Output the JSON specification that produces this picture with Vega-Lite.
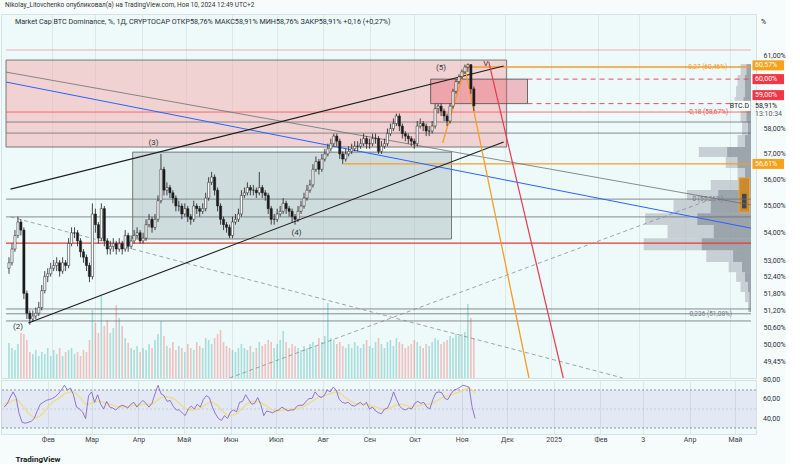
{
"$schema": "https://vega.github.io/schema/vega-lite/v6.json",
"background": "#f6fcfc",
"padding": {"left": 0, "top": 2, "right": 0, "bottom": 0},
"bounds": "flush",
"title": {"text": "Nikolay_Litovchenko опубликовал(а) на TradingView.com, Ноя 10, 2024 12:49 UTC+2", "anchor": "start", "fontSize": 6.5, "fontWeight": "normal", "color": "#333333", "offset": 5, "dx": 5},
"config": {"font": "Roboto", "view": {"stroke": "#d5e2e3", "fill": "#eefafa"}},
"spacing": 2,
"datasets": {
"c": [
{"t":"2024-01-03","o":52.7,"h":53.1,"l":52.5,"c":52.9,"v":35,"r":52,"m":55},
{"t":"2024-01-05","o":52.9,"h":53.6,"l":52.8,"c":53.4,"v":30,"r":55,"m":56},
{"t":"2024-01-07","o":53.4,"h":54.1,"l":53.3,"c":53.9,"v":28,"r":62,"m":57},
{"t":"2024-01-09","o":53.9,"h":54.6,"l":53.8,"c":54.4,"v":34,"r":68,"m":59},
{"t":"2024-01-11","o":54.4,"h":54.5,"l":53.9,"c":54.1,"v":45,"r":62,"m":60},
{"t":"2024-01-13","o":54.1,"h":54.2,"l":51.6,"c":51.8,"v":44,"r":45,"m":58},
{"t":"2024-01-15","o":51.8,"h":51.9,"l":50.9,"c":51.1,"v":38,"r":36,"m":54},
{"t":"2024-01-17","o":51.1,"h":51.2,"l":50.7,"c":50.9,"v":26,"r":35,"m":50},
{"t":"2024-01-19","o":50.9,"h":51.2,"l":50.8,"c":51.0,"v":24,"r":36,"m":46},
{"t":"2024-01-21","o":51.0,"h":51.3,"l":50.9,"c":51.1,"v":28,"r":37,"m":43},
{"t":"2024-01-23","o":51.1,"h":51.5,"l":51.0,"c":51.3,"v":22,"r":40,"m":41},
{"t":"2024-01-25","o":51.3,"h":52.1,"l":51.2,"c":51.9,"v":26,"r":48,"m":41},
{"t":"2024-01-27","o":51.9,"h":52.6,"l":51.8,"c":52.4,"v":24,"r":55,"m":43},
{"t":"2024-01-29","o":52.4,"h":52.7,"l":52.2,"c":52.5,"v":30,"r":57,"m":46},
{"t":"2024-01-31","o":52.5,"h":52.9,"l":52.4,"c":52.7,"v":22,"r":59,"m":50},
{"t":"2024-02-02","o":52.7,"h":53.0,"l":52.6,"c":52.8,"v":28,"r":60,"m":54},
{"t":"2024-02-04","o":52.8,"h":53.1,"l":52.6,"c":52.9,"v":24,"r":61,"m":57},
{"t":"2024-02-06","o":52.9,"h":53.0,"l":52.4,"c":52.6,"v":30,"r":63,"m":59},
{"t":"2024-02-08","o":52.6,"h":53.1,"l":52.5,"c":52.9,"v":22,"r":66,"m":61},
{"t":"2024-02-10","o":52.9,"h":53.0,"l":52.6,"c":52.8,"v":26,"r":70,"m":63},
{"t":"2024-02-12","o":52.8,"h":53.8,"l":52.7,"c":53.6,"v":28,"r":75,"m":66},
{"t":"2024-02-14","o":53.6,"h":54.2,"l":53.5,"c":54.0,"v":30,"r":70,"m":67},
{"t":"2024-02-16","o":54.0,"h":54.2,"l":53.8,"c":54.0,"v":24,"r":72,"m":68},
{"t":"2024-02-18","o":54.0,"h":54.1,"l":53.5,"c":53.7,"v":26,"r":65,"m":68},
{"t":"2024-02-20","o":53.7,"h":53.8,"l":53.1,"c":53.3,"v":22,"r":52,"m":66},
{"t":"2024-02-22","o":53.3,"h":53.4,"l":52.9,"c":53.1,"v":28,"r":50,"m":63},
{"t":"2024-02-24","o":53.1,"h":53.2,"l":52.6,"c":52.8,"v":26,"r":47,"m":59},
{"t":"2024-02-26","o":52.8,"h":52.9,"l":52.2,"c":52.4,"v":38,"r":40,"m":55},
{"t":"2024-02-28","o":52.4,"h":55.1,"l":52.3,"c":54.7,"v":68,"r":64,"m":55},
{"t":"2024-03-01","o":54.7,"h":54.9,"l":54.0,"c":54.3,"v":55,"r":68,"m":56},
{"t":"2024-03-03","o":54.3,"h":54.4,"l":53.6,"c":53.8,"v":45,"r":57,"m":57},
{"t":"2024-03-05","o":53.8,"h":55.1,"l":53.7,"c":54.9,"v":82,"r":65,"m":58},
{"t":"2024-03-07","o":54.9,"h":55.0,"l":53.5,"c":53.7,"v":52,"r":55,"m":58},
{"t":"2024-03-09","o":53.7,"h":53.8,"l":53.2,"c":53.4,"v":58,"r":50,"m":57},
{"t":"2024-03-11","o":53.4,"h":53.7,"l":53.2,"c":53.5,"v":45,"r":58,"m":56},
{"t":"2024-03-13","o":53.5,"h":53.8,"l":53.3,"c":53.6,"v":50,"r":52,"m":55},
{"t":"2024-03-15","o":53.6,"h":53.7,"l":53.2,"c":53.4,"v":73,"r":51,"m":54},
{"t":"2024-03-17","o":53.4,"h":53.8,"l":53.3,"c":53.6,"v":60,"r":49,"m":53},
{"t":"2024-03-19","o":53.6,"h":53.7,"l":53.2,"c":53.4,"v":52,"r":52,"m":52},
{"t":"2024-03-21","o":53.4,"h":54.1,"l":53.3,"c":53.9,"v":40,"r":54,"m":52},
{"t":"2024-03-23","o":53.9,"h":54.0,"l":53.3,"c":53.5,"v":35,"r":53,"m":52},
{"t":"2024-03-25","o":53.5,"h":53.9,"l":53.4,"c":53.7,"v":30,"r":51,"m":53},
{"t":"2024-03-27","o":53.7,"h":54.1,"l":53.6,"c":53.9,"v":28,"r":55,"m":53},
{"t":"2024-03-29","o":53.9,"h":54.2,"l":53.8,"c":54.0,"v":32,"r":57,"m":54},
{"t":"2024-03-31","o":54.0,"h":54.1,"l":53.6,"c":53.7,"v":26,"r":52,"m":54},
{"t":"2024-04-02","o":53.7,"h":54.0,"l":53.6,"c":53.8,"v":30,"r":56,"m":54},
{"t":"2024-04-04","o":53.8,"h":54.5,"l":53.7,"c":54.3,"v":28,"r":59,"m":55},
{"t":"2024-04-06","o":54.3,"h":54.7,"l":54.2,"c":54.5,"v":34,"r":56,"m":55},
{"t":"2024-04-08","o":54.5,"h":54.6,"l":54.0,"c":54.2,"v":30,"r":52,"m":55},
{"t":"2024-04-10","o":54.2,"h":54.7,"l":54.1,"c":54.5,"v":38,"r":56,"m":55},
{"t":"2024-04-12","o":54.5,"h":55.4,"l":54.4,"c":55.2,"v":44,"r":66,"m":57},
{"t":"2024-04-14","o":55.2,"h":57.0,"l":55.1,"c":56.4,"v":57,"r":75,"m":60},
{"t":"2024-04-16","o":56.4,"h":56.5,"l":55.4,"c":55.6,"v":42,"r":66,"m":62},
{"t":"2024-04-18","o":55.6,"h":55.9,"l":55.4,"c":55.7,"v":32,"r":64,"m":63},
{"t":"2024-04-20","o":55.7,"h":55.8,"l":55.3,"c":55.5,"v":30,"r":58,"m":63},
{"t":"2024-04-22","o":55.5,"h":55.6,"l":55.1,"c":55.3,"v":36,"r":59,"m":62},
{"t":"2024-04-24","o":55.3,"h":55.4,"l":54.8,"c":55.0,"v":28,"r":53,"m":61},
{"t":"2024-04-26","o":55.0,"h":55.2,"l":54.8,"c":55.0,"v":32,"r":49,"m":59},
{"t":"2024-04-28","o":55.0,"h":55.1,"l":54.5,"c":54.7,"v":30,"r":49,"m":56},
{"t":"2024-04-30","o":54.7,"h":55.1,"l":54.6,"c":54.9,"v":26,"r":46,"m":53},
{"t":"2024-05-02","o":54.9,"h":55.0,"l":54.4,"c":54.6,"v":34,"r":43,"m":51},
{"t":"2024-05-04","o":54.6,"h":54.7,"l":54.3,"c":54.5,"v":30,"r":50,"m":49},
{"t":"2024-05-06","o":54.5,"h":55.2,"l":54.4,"c":55.0,"v":28,"r":53,"m":49},
{"t":"2024-05-08","o":55.0,"h":55.1,"l":54.7,"c":54.9,"v":36,"r":50,"m":49},
{"t":"2024-05-10","o":54.9,"h":55.0,"l":54.6,"c":54.8,"v":32,"r":55,"m":50},
{"t":"2024-05-12","o":54.8,"h":55.1,"l":54.7,"c":54.9,"v":30,"r":52,"m":51},
{"t":"2024-05-14","o":54.9,"h":55.5,"l":54.8,"c":55.3,"v":40,"r":60,"m":53},
{"t":"2024-05-16","o":55.3,"h":56.1,"l":55.2,"c":55.9,"v":38,"r":64,"m":55},
{"t":"2024-05-18","o":55.9,"h":56.3,"l":55.8,"c":56.1,"v":34,"r":62,"m":57},
{"t":"2024-05-20","o":56.1,"h":56.2,"l":55.4,"c":55.6,"v":40,"r":52,"m":57},
{"t":"2024-05-22","o":55.6,"h":55.7,"l":54.8,"c":55.0,"v":44,"r":45,"m":55},
{"t":"2024-05-24","o":55.0,"h":55.1,"l":54.3,"c":54.5,"v":48,"r":40,"m":53},
{"t":"2024-05-26","o":54.5,"h":54.6,"l":54.1,"c":54.3,"v":36,"r":38,"m":49},
{"t":"2024-05-28","o":54.3,"h":54.4,"l":54.0,"c":54.2,"v":32,"r":43,"m":46},
{"t":"2024-05-30","o":54.2,"h":54.3,"l":53.8,"c":53.9,"v":30,"r":40,"m":43},
{"t":"2024-06-01","o":53.9,"h":54.6,"l":53.8,"c":54.4,"v":28,"r":47,"m":43},
{"t":"2024-06-03","o":54.4,"h":54.7,"l":54.3,"c":54.5,"v":26,"r":49,"m":44},
{"t":"2024-06-05","o":54.5,"h":54.9,"l":54.4,"c":54.7,"v":30,"r":47,"m":45},
{"t":"2024-06-07","o":54.7,"h":55.6,"l":54.6,"c":55.4,"v":34,"r":57,"m":48},
{"t":"2024-06-09","o":55.4,"h":55.7,"l":55.3,"c":55.5,"v":30,"r":58,"m":51},
{"t":"2024-06-11","o":55.5,"h":55.9,"l":55.4,"c":55.7,"v":28,"r":65,"m":54},
{"t":"2024-06-13","o":55.7,"h":55.8,"l":55.4,"c":55.6,"v":32,"r":60,"m":57},
{"t":"2024-06-15","o":55.6,"h":55.8,"l":55.4,"c":55.6,"v":26,"r":55,"m":58},
{"t":"2024-06-17","o":55.6,"h":55.7,"l":55.3,"c":55.5,"v":30,"r":56,"m":58},
{"t":"2024-06-19","o":55.5,"h":56.3,"l":55.4,"c":55.7,"v":36,"r":62,"m":58},
{"t":"2024-06-21","o":55.7,"h":55.8,"l":55.3,"c":55.5,"v":32,"r":55,"m":57},
{"t":"2024-06-23","o":55.5,"h":55.6,"l":55.2,"c":55.4,"v":34,"r":43,"m":55},
{"t":"2024-06-25","o":55.4,"h":55.5,"l":54.7,"c":54.9,"v":38,"r":48,"m":53},
{"t":"2024-06-27","o":54.9,"h":55.0,"l":54.3,"c":54.5,"v":36,"r":47,"m":51},
{"t":"2024-06-29","o":54.5,"h":54.7,"l":54.3,"c":54.5,"v":30,"r":46,"m":49},
{"t":"2024-07-01","o":54.5,"h":54.9,"l":54.4,"c":54.7,"v":34,"r":48,"m":48},
{"t":"2024-07-03","o":54.7,"h":55.0,"l":54.6,"c":54.8,"v":38,"r":49,"m":48},
{"t":"2024-07-05","o":54.8,"h":55.3,"l":54.7,"c":55.1,"v":47,"r":52,"m":49},
{"t":"2024-07-07","o":55.1,"h":55.2,"l":54.7,"c":54.9,"v":36,"r":50,"m":49},
{"t":"2024-07-09","o":54.9,"h":55.0,"l":54.6,"c":54.8,"v":30,"r":48,"m":50},
{"t":"2024-07-11","o":54.8,"h":54.9,"l":54.4,"c":54.6,"v":34,"r":49,"m":50},
{"t":"2024-07-13","o":54.6,"h":54.7,"l":54.3,"c":54.5,"v":32,"r":49,"m":50},
{"t":"2024-07-15","o":54.5,"h":55.0,"l":54.4,"c":54.8,"v":30,"r":53,"m":50},
{"t":"2024-07-17","o":54.8,"h":55.2,"l":54.7,"c":55.0,"v":28,"r":54,"m":51},
{"t":"2024-07-19","o":55.0,"h":55.5,"l":54.9,"c":55.3,"v":32,"r":54,"m":52},
{"t":"2024-07-21","o":55.3,"h":55.8,"l":55.2,"c":55.6,"v":30,"r":58,"m":54},
{"t":"2024-07-23","o":55.6,"h":56.0,"l":55.5,"c":55.8,"v":34,"r":61,"m":56},
{"t":"2024-07-25","o":55.8,"h":56.6,"l":55.7,"c":56.4,"v":36,"r":61,"m":58},
{"t":"2024-07-27","o":56.4,"h":56.9,"l":56.3,"c":56.7,"v":32,"r":68,"m":60},
{"t":"2024-07-29","o":56.7,"h":56.8,"l":56.2,"c":56.4,"v":40,"r":64,"m":62},
{"t":"2024-07-31","o":56.4,"h":57.0,"l":56.3,"c":56.8,"v":36,"r":62,"m":63},
{"t":"2024-08-02","o":56.8,"h":57.2,"l":56.7,"c":57.0,"v":42,"r":64,"m":64},
{"t":"2024-08-04","o":57.0,"h":57.4,"l":56.9,"c":57.2,"v":75,"r":70,"m":65},
{"t":"2024-08-06","o":57.2,"h":57.6,"l":57.1,"c":57.4,"v":40,"r":68,"m":66},
{"t":"2024-08-08","o":57.4,"h":57.8,"l":57.3,"c":57.7,"v":38,"r":73,"m":67},
{"t":"2024-08-10","o":57.7,"h":57.8,"l":57.3,"c":57.5,"v":34,"r":70,"m":68},
{"t":"2024-08-12","o":57.5,"h":57.6,"l":56.8,"c":57.0,"v":36,"r":60,"m":67},
{"t":"2024-08-14","o":57.0,"h":57.1,"l":56.6,"c":56.8,"v":32,"r":57,"m":65},
{"t":"2024-08-16","o":56.8,"h":57.2,"l":56.7,"c":57.0,"v":30,"r":56,"m":62},
{"t":"2024-08-18","o":57.0,"h":57.3,"l":56.9,"c":57.1,"v":34,"r":57,"m":60},
{"t":"2024-08-20","o":57.1,"h":57.4,"l":57.0,"c":57.2,"v":30,"r":54,"m":58},
{"t":"2024-08-22","o":57.2,"h":57.5,"l":57.1,"c":57.3,"v":36,"r":53,"m":56},
{"t":"2024-08-24","o":57.3,"h":57.5,"l":57.1,"c":57.3,"v":32,"r":55,"m":55},
{"t":"2024-08-26","o":57.3,"h":57.6,"l":57.2,"c":57.4,"v":30,"r":57,"m":55},
{"t":"2024-08-28","o":57.4,"h":57.8,"l":57.3,"c":57.6,"v":34,"r":54,"m":55},
{"t":"2024-08-30","o":57.6,"h":57.7,"l":57.2,"c":57.4,"v":38,"r":57,"m":55},
{"t":"2024-09-01","o":57.4,"h":57.6,"l":57.2,"c":57.4,"v":32,"r":50,"m":54},
{"t":"2024-09-03","o":57.4,"h":57.8,"l":57.3,"c":57.6,"v":30,"r":52,"m":53},
{"t":"2024-09-05","o":57.6,"h":57.8,"l":57.4,"c":57.6,"v":36,"r":48,"m":52},
{"t":"2024-09-07","o":57.6,"h":57.7,"l":57.0,"c":57.1,"v":40,"r":46,"m":51},
{"t":"2024-09-09","o":57.1,"h":57.5,"l":57.0,"c":57.3,"v":34,"r":45,"m":50},
{"t":"2024-09-11","o":57.3,"h":57.6,"l":57.2,"c":57.4,"v":30,"r":50,"m":49},
{"t":"2024-09-13","o":57.4,"h":58.0,"l":57.3,"c":57.8,"v":36,"r":51,"m":50},
{"t":"2024-09-15","o":57.8,"h":58.2,"l":57.7,"c":58.0,"v":38,"r":58,"m":51},
{"t":"2024-09-17","o":58.0,"h":58.4,"l":57.9,"c":58.2,"v":32,"r":68,"m":53},
{"t":"2024-09-19","o":58.2,"h":58.6,"l":58.1,"c":58.5,"v":40,"r":60,"m":54},
{"t":"2024-09-21","o":58.5,"h":58.6,"l":57.9,"c":58.1,"v":36,"r":53,"m":55},
{"t":"2024-09-23","o":58.1,"h":58.2,"l":57.6,"c":57.8,"v":34,"r":50,"m":55},
{"t":"2024-09-25","o":57.8,"h":57.9,"l":57.5,"c":57.7,"v":30,"r":49,"m":54},
{"t":"2024-09-27","o":57.7,"h":57.8,"l":57.4,"c":57.6,"v":32,"r":51,"m":53},
{"t":"2024-09-29","o":57.6,"h":57.7,"l":57.3,"c":57.5,"v":34,"r":50,"m":52},
{"t":"2024-10-01","o":57.5,"h":57.6,"l":57.2,"c":57.4,"v":38,"r":56,"m":53},
{"t":"2024-10-03","o":57.4,"h":58.3,"l":57.3,"c":58.1,"v":36,"r":58,"m":53},
{"t":"2024-10-05","o":58.1,"h":58.4,"l":58.0,"c":58.2,"v":32,"r":56,"m":54},
{"t":"2024-10-07","o":58.2,"h":58.3,"l":57.9,"c":58.1,"v":30,"r":57,"m":55},
{"t":"2024-10-09","o":58.1,"h":58.2,"l":57.7,"c":57.9,"v":34,"r":52,"m":55},
{"t":"2024-10-11","o":57.9,"h":58.1,"l":57.7,"c":57.9,"v":32,"r":50,"m":55},
{"t":"2024-10-13","o":57.9,"h":58.3,"l":57.8,"c":58.1,"v":36,"r":60,"m":56},
{"t":"2024-10-15","o":58.1,"h":59.0,"l":58.0,"c":58.8,"v":40,"r":67,"m":58},
{"t":"2024-10-17","o":58.8,"h":59.0,"l":58.6,"c":58.9,"v":38,"r":68,"m":60},
{"t":"2024-10-19","o":58.9,"h":59.0,"l":58.5,"c":58.7,"v":34,"r":67,"m":62},
{"t":"2024-10-21","o":58.7,"h":58.8,"l":58.3,"c":58.5,"v":36,"r":61,"m":63},
{"t":"2024-10-23","o":58.5,"h":58.6,"l":58.1,"c":58.3,"v":38,"r":60,"m":64},
{"t":"2024-10-25","o":58.3,"h":59.0,"l":58.2,"c":58.9,"v":42,"r":66,"m":65},
{"t":"2024-10-27","o":58.9,"h":59.6,"l":58.8,"c":59.5,"v":40,"r":70,"m":66},
{"t":"2024-10-29","o":59.5,"h":60.0,"l":59.4,"c":59.9,"v":44,"r":71,"m":67},
{"t":"2024-10-31","o":59.9,"h":60.2,"l":59.8,"c":60.1,"v":42,"r":73,"m":68},
{"t":"2024-11-02","o":60.1,"h":60.4,"l":60.0,"c":60.3,"v":44,"r":75,"m":70},
{"t":"2024-11-04","o":60.3,"h":60.6,"l":60.2,"c":60.5,"v":46,"r":74,"m":71},
{"t":"2024-11-06","o":60.5,"h":60.65,"l":60.3,"c":60.6,"v":74,"r":73,"m":72},
{"t":"2024-11-08","o":60.6,"h":60.6,"l":59.4,"c":59.6,"v":60,"r":52,"m":70},
{"t":"2024-11-10","o":59.6,"h":59.7,"l":58.7,"c":58.91,"v":40,"r":40,"m":67}
],
"zones": [
{"k":"pk","a":"2024-01-01","b":"2024-12-02","lo":57.27,"hi":60.79},
{"k":"gy","a":"2024-03-26","b":"2024-10-26","lo":53.77,"hi":57.07},
{"k":"rd","a":"2024-10-12","b":"2024-12-16","lo":59.0,"hi":60.0}
],
"levels": [
{"k":"pk","p":61.21,"a":"2024-01-01","b":"2025-05-15"},
{"k":"rd","p":58.66,"a":"2024-01-01","b":"2025-05-15"},
{"k":"gy","p":58.26,"a":"2024-01-01","b":"2025-05-15"},
{"k":"gy","p":57.82,"a":"2024-01-01","b":"2025-05-15"},
{"k":"gy","p":55.26,"a":"2024-01-01","b":"2025-05-15"},
{"k":"gy","p":54.59,"a":"2024-01-01","b":"2025-05-15"},
{"k":"rd2","p":53.62,"a":"2024-01-01","b":"2025-05-15"},
{"k":"gy","p":51.25,"a":"2024-01-01","b":"2025-05-15"},
{"k":"gy","p":51.08,"a":"2024-01-01","b":"2025-05-15"},
{"k":"gy","p":50.83,"a":"2024-01-01","b":"2025-05-15"},
{"k":"or","p":60.5,"a":"2024-11-04","b":"2025-05-15"},
{"k":"or","p":56.61,"a":"2024-08-15","b":"2025-05-15"},
{"k":"rdd","p":60.0,"a":"2024-12-16","b":"2025-05-15"},
{"k":"rdd","p":59.0,"a":"2024-12-16","b":"2025-05-15"}
],
"segs": [
{"id":"up","t":"2024-01-04","p":55.64},{"id":"up","t":"2024-11-30","p":60.54},
{"id":"lo","t":"2024-01-16","p":50.76},{"id":"lo","t":"2024-11-30","p":57.47},
{"id":"bl","t":"2024-01-01","p":59.88},{"id":"bl","t":"2025-05-15","p":54.17},
{"id":"gd","t":"2024-01-01","p":60.29},{"id":"gd","t":"2025-05-15","p":55.04},
{"id":"dd","t":"2024-01-04","p":54.59},{"id":"dd","t":"2025-02-18","p":48.88},
{"id":"da","t":"2024-05-30","p":48.88},{"id":"da","t":"2025-04-17","p":55.23},
{"id":"oa","t":"2024-10-20","p":57.43},{"id":"oa","t":"2024-11-04","p":60.46},
{"id":"ob","t":"2024-11-04","p":60.46},{"id":"ob","t":"2024-12-17","p":48.88},
{"id":"rr","t":"2024-11-20","p":60.71},{"id":"rr","t":"2025-01-09","p":48.88}
],
"profile": [
{"lo":60.17,"hi":60.62,"a":"2025-05-08","b":"2025-05-12"},
{"lo":59.72,"hi":60.17,"a":"2025-05-06","b":"2025-05-11"},
{"lo":59.27,"hi":59.72,"a":"2025-05-05","b":"2025-05-11"},
{"lo":58.74,"hi":59.27,"a":"2025-05-04","b":"2025-05-10"},
{"lo":58.26,"hi":58.74,"a":"2025-05-08","b":"2025-05-12"},
{"lo":57.74,"hi":58.26,"a":"2025-05-09","b":"2025-05-13"},
{"lo":57.27,"hi":57.74,"a":"2025-05-06","b":"2025-05-11"},
{"lo":56.88,"hi":57.27,"a":"2025-04-10","b":"2025-04-29"},
{"lo":56.45,"hi":56.88,"a":"2025-04-28","b":"2025-05-06"},
{"lo":55.99,"hi":56.45,"a":"2025-05-06","b":"2025-05-11"},
{"lo":55.61,"hi":55.99,"a":"2025-04-18","b":"2025-05-08"},
{"lo":55.23,"hi":55.61,"a":"2025-04-02","b":"2025-04-23"},
{"lo":54.73,"hi":55.23,"a":"2025-03-24","b":"2025-04-18"},
{"lo":54.29,"hi":54.73,"a":"2025-03-05","b":"2025-04-09"},
{"lo":53.80,"hi":54.29,"a":"2025-03-20","b":"2025-04-20"},
{"lo":53.36,"hi":53.80,"a":"2025-03-04","b":"2025-04-12"},
{"lo":52.93,"hi":53.36,"a":"2025-04-15","b":"2025-05-03"},
{"lo":52.56,"hi":52.93,"a":"2025-04-30","b":"2025-05-09"},
{"lo":52.21,"hi":52.56,"a":"2025-05-05","b":"2025-05-11"},
{"lo":51.85,"hi":52.21,"a":"2025-05-08","b":"2025-05-13"},
{"lo":51.49,"hi":51.85,"a":"2025-05-11","b":"2025-05-14"},
{"lo":51.14,"hi":51.49,"a":"2025-05-13","b":"2025-05-14"}
],
"notes": [
{"t":"2024-01-09","p":50.62,"s":"(2)"},
{"t":"2024-04-09","p":57.43,"s":"(3)"},
{"t":"2024-07-14","p":53.99,"s":"(4)"},
{"t":"2024-10-19","p":60.46,"s":"(5)"},
{"t":"2024-11-18","p":60.62,"s":"V"}
],
"fib": [
{"t":"2025-04-16","p":60.5,"s":"0,27 (60,46%)","k":"o"},
{"t":"2025-04-16","p":58.66,"s":"-0,18 (58,67%)","k":"r"},
{"t":"2025-04-16","p":55.26,"s":"0 (55,26%)","k":"g"},
{"t":"2025-04-18","p":51.08,"s":"0,236 (51,08%)","k":"g"}
],
"tags": [
{"p":60.57,"s":"60,57%","k":"o"},
{"p":60.0,"s":"60,00%","k":"r"},
{"p":56.61,"s":"56,61%","k":"o"}
],
"one": [{"n": 1}],
"rsilv": [{"y": 70, "k": "a"}, {"y": 30, "k": "a"}, {"y": 50, "k": "b"}],
"rsilab": [{"y": 80, "s": "80,00"}, {"y": 60, "s": "60,00"}, {"y": 40, "s": "40,00"}]
},
"vconcat": [
{
"width": 755, "height": 364,
"resolve": {"scale": {"y": "independent"}},
"layer": [
{"data": {"name": "c"},
 "mark": {"type": "bar", "size": 1.6, "opacity": 0.35},
 "encoding": {
  "x": {"field": "t", "type": "temporal", "scale": {"type": "utc", "domain": [{"year":2024,"month":1,"date":1,"utc":true},{"year":2025,"month":5,"date":15,"utc":true}]},
        "axis": {"values": [{"year":2024,"month":2,"date":1,"utc":true},{"year":2024,"month":3,"date":1,"utc":true},{"year":2024,"month":4,"date":1,"utc":true},{"year":2024,"month":5,"date":1,"utc":true},{"year":2024,"month":6,"date":1,"utc":true},{"year":2024,"month":7,"date":1,"utc":true},{"year":2024,"month":8,"date":1,"utc":true},{"year":2024,"month":9,"date":1,"utc":true},{"year":2024,"month":10,"date":1,"utc":true},{"year":2024,"month":11,"date":1,"utc":true},{"year":2024,"month":12,"date":1,"utc":true},{"year":2025,"month":1,"date":1,"utc":true},{"year":2025,"month":2,"date":1,"utc":true},{"year":2025,"month":3,"date":1,"utc":true},{"year":2025,"month":4,"date":1,"utc":true},{"year":2025,"month":5,"date":1,"utc":true}],
                 "labels": false, "ticks": false, "domain": false, "grid": true, "gridColor": "#dce8e9", "title": null, "minExtent": 0, "maxExtent": 0, "offset": 0, "labelPadding": 0}},
  "y": {"field": "v", "type": "quantitative", "scale": {"domain": [0, 364]}, "axis": null},
  "color": {"condition": {"test": "datum.c >= datum.o", "value": "#26a69a"}, "value": "#ef5350"}
 }},
{"layer": [
 {"data": {"name": "zones"}, "transform": [{"filter": "datum.k == 'pk'"}],
  "mark": {"type": "rect", "fill": "#f2b0b0", "fillOpacity": 0.55, "stroke": "#5d5d5d", "strokeWidth": 0.8},
  "encoding": {
   "x": {"field": "a", "type": "temporal"}, "x2": {"field": "b"},
   "y": {"field": "lo", "type": "quantitative", "scale": {"type": "log", "domain": [48.88, 62.74], "nice": false},
         "axis": {"orient": "right", "values": [61, 58, 57, 56, 55, 54, 53, 52.4, 51.8, 51.2, 50.6, 50, 49.45], "labelExpr": "replace(format(datum.value, '.2f'), '.', ',') + '%'", "labelOverlap": false, "domain": false, "ticks": false, "grid": false, "labelFontSize": 7, "labelColor": "#2a2e39", "labelPadding": 7, "title": null}},
   "y2": {"field": "hi"}}},
 {"data": {"name": "zones"}, "transform": [{"filter": "datum.k == 'gy'"}],
  "mark": {"type": "rect", "fill": "#a9b8bd", "fillOpacity": 0.45, "stroke": "#5d5d5d", "strokeWidth": 0.8},
  "encoding": {"x": {"field": "a", "type": "temporal"}, "x2": {"field": "b"}, "y": {"field": "lo", "type": "quantitative"}, "y2": {"field": "hi"}}},
 {"data": {"name": "profile"},
  "mark": {"type": "rect", "fill": "#b7bdc3", "fillOpacity": 0.7},
  "encoding": {"x": {"field": "a", "type": "temporal"}, "x2": {"datum": {"year":2025,"month":5,"date":15,"utc":true}}, "y": {"field": "lo", "type": "quantitative"}, "y2": {"field": "hi"}}},
 {"data": {"name": "profile"},
  "mark": {"type": "rect", "fill": "#7f8791", "fillOpacity": 0.6},
  "encoding": {"x": {"field": "b", "type": "temporal"}, "x2": {"datum": {"year":2025,"month":5,"date":15,"utc":true}}, "y": {"field": "lo", "type": "quantitative"}, "y2": {"field": "hi"}}},
 {"data": {"values": [{"a": "2025-05-07", "b": "2025-05-14", "lo": 54.77, "hi": 56.07}]},
  "mark": {"type": "rect", "fill": "#c98b2e", "stroke": "#e6a443", "strokeWidth": 1},
  "encoding": {"x": {"field": "a", "type": "temporal"}, "x2": {"field": "b"}, "y": {"field": "lo", "type": "quantitative"}, "y2": {"field": "hi"}}},
 {"data": {"values": [{"a": "2025-05-09", "b": "2025-05-12", "lo": 54.91, "hi": 55.46}]},
  "mark": {"type": "rect", "fill": "#3f4650"},
  "encoding": {"x": {"field": "a", "type": "temporal"}, "x2": {"field": "b"}, "y": {"field": "lo", "type": "quantitative"}, "y2": {"field": "hi"}}},
 {"data": {"name": "levels"}, "transform": [{"filter": "datum.k == 'gy'"}],
  "mark": {"type": "rule", "color": "#6b6f75", "strokeWidth": 0.8},
  "encoding": {"x": {"field": "a", "type": "temporal"}, "x2": {"field": "b"}, "y": {"field": "p", "type": "quantitative"}}},
 {"data": {"name": "levels"}, "transform": [{"filter": "datum.k == 'pk'"}],
  "mark": {"type": "rule", "color": "#f09a9a", "strokeWidth": 0.8},
  "encoding": {"x": {"field": "a", "type": "temporal"}, "x2": {"field": "b"}, "y": {"field": "p", "type": "quantitative"}}},
 {"data": {"name": "levels"}, "transform": [{"filter": "datum.k == 'rd'"}],
  "mark": {"type": "rule", "color": "#ef5350", "strokeWidth": 0.8},
  "encoding": {"x": {"field": "a", "type": "temporal"}, "x2": {"field": "b"}, "y": {"field": "p", "type": "quantitative"}}},
 {"data": {"name": "levels"}, "transform": [{"filter": "datum.k == 'rd2'"}],
  "mark": {"type": "rule", "color": "#e53935", "strokeWidth": 1.2},
  "encoding": {"x": {"field": "a", "type": "temporal"}, "x2": {"field": "b"}, "y": {"field": "p", "type": "quantitative"}}},
 {"data": {"name": "levels"}, "transform": [{"filter": "datum.k == 'or'"}],
  "mark": {"type": "rule", "color": "#f59d2a", "strokeWidth": 1.4},
  "encoding": {"x": {"field": "a", "type": "temporal"}, "x2": {"field": "b"}, "y": {"field": "p", "type": "quantitative"}}},
 {"data": {"name": "levels"}, "transform": [{"filter": "datum.k == 'rdd'"}],
  "mark": {"type": "rule", "color": "#ec4a5c", "strokeWidth": 1, "strokeDash": [5, 4]},
  "encoding": {"x": {"field": "a", "type": "temporal"}, "x2": {"field": "b"}, "y": {"field": "p", "type": "quantitative"}}},
 {"data": {"name": "zones"}, "transform": [{"filter": "datum.k == 'rd'"}],
  "mark": {"type": "rect", "fill": "#e8606e", "fillOpacity": 0.4, "stroke": "#4a4a4a", "strokeWidth": 0.8},
  "encoding": {"x": {"field": "a", "type": "temporal"}, "x2": {"field": "b"}, "y": {"field": "lo", "type": "quantitative"}, "y2": {"field": "hi"}}},
 {"data": {"name": "segs"}, "transform": [{"filter": "datum.id == 'gd'"}],
  "mark": {"type": "line", "color": "#6b6f75", "strokeWidth": 0.8, "clip": true},
  "encoding": {"x": {"field": "t", "type": "temporal"}, "y": {"field": "p", "type": "quantitative"}, "detail": {"field": "id"}}},
 {"data": {"name": "segs"}, "transform": [{"filter": "datum.id == 'dd' || datum.id == 'da'"}],
  "mark": {"type": "line", "color": "#8a8e94", "strokeWidth": 0.8, "strokeDash": [4, 3], "clip": true},
  "encoding": {"x": {"field": "t", "type": "temporal"}, "y": {"field": "p", "type": "quantitative"}, "detail": {"field": "id"}}},
 {"data": {"name": "segs"}, "transform": [{"filter": "datum.id == 'bl'"}],
  "mark": {"type": "line", "color": "#2962ff", "strokeWidth": 1, "clip": true},
  "encoding": {"x": {"field": "t", "type": "temporal"}, "y": {"field": "p", "type": "quantitative"}, "detail": {"field": "id"}}},
 {"data": {"name": "segs"}, "transform": [{"filter": "datum.id == 'up' || datum.id == 'lo'"}],
  "mark": {"type": "line", "color": "#1e1e1e", "strokeWidth": 1.1, "clip": true},
  "encoding": {"x": {"field": "t", "type": "temporal"}, "y": {"field": "p", "type": "quantitative"}, "detail": {"field": "id"}}},
 {"data": {"name": "segs"}, "transform": [{"filter": "datum.id == 'oa' || datum.id == 'ob'"}],
  "mark": {"type": "line", "color": "#f59d2a", "strokeWidth": 1.3, "clip": true},
  "encoding": {"x": {"field": "t", "type": "temporal"}, "y": {"field": "p", "type": "quantitative"}, "detail": {"field": "id"}}},
 {"data": {"name": "segs"}, "transform": [{"filter": "datum.id == 'rr'"}],
  "mark": {"type": "line", "color": "#e53950", "strokeWidth": 1.2, "clip": true},
  "encoding": {"x": {"field": "t", "type": "temporal"}, "y": {"field": "p", "type": "quantitative"}, "detail": {"field": "id"}}},
 {"data": {"name": "c"},
  "mark": {"type": "rule", "color": "#1c1c1c", "strokeWidth": 0.8},
  "encoding": {"x": {"field": "t", "type": "temporal"}, "y": {"field": "l", "type": "quantitative"}, "y2": {"field": "h"}}},
 {"data": {"name": "c"},
  "mark": {"type": "bar", "size": 2.2, "stroke": "#1c1c1c", "strokeWidth": 0.5},
  "encoding": {"x": {"field": "t", "type": "temporal"}, "y": {"field": "o", "type": "quantitative"}, "y2": {"field": "c"},
   "fill": {"condition": {"test": "datum.c >= datum.o", "value": "#ffffff"}, "value": "#1c1c1c"}}},
 {"data": {"name": "notes"},
  "mark": {"type": "text", "fontSize": 8, "color": "#333333", "align": "center", "baseline": "middle"},
  "encoding": {"x": {"field": "t", "type": "temporal"}, "y": {"field": "p", "type": "quantitative"}, "text": {"field": "s"}}},
 {"data": {"name": "fib"},
  "mark": {"type": "text", "fontSize": 6.5, "align": "center", "baseline": "middle"},
  "encoding": {"x": {"field": "t", "type": "temporal"}, "y": {"field": "p", "type": "quantitative"}, "text": {"field": "s"},
   "color": {"field": "k", "type": "nominal", "scale": {"domain": ["o", "r", "g"], "range": ["#f59d2a", "#ef5350", "#787b86"]}, "legend": null}}},
 {"data": {"values": [{"s": "Market Cap BTC Dominance, %, 1Д, CRYPTOCAP  ОТКР58,76%  МАКС58,91%  МИН58,76%  ЗАКР58,91%  +0,16 (+0,27%)"}]},
  "mark": {"type": "text", "fontSize": 7.2, "color": "#2a2e39", "align": "left", "baseline": "middle"},
  "encoding": {"x": {"datum": {"year":2024,"month":1,"date":7,"utc":true}, "type": "temporal"}, "y": {"datum": 62.4, "type": "quantitative"}, "text": {"field": "s"}}},
 {"data": {"name": "tags"}, "transform": [{"filter": "datum.k == 'o'"}],
  "mark": {"type": "point", "shape": "M0.15,-0.5H3.3V0.5H0.15Z", "size": 400, "filled": true, "color": "#f7a21b", "opacity": 1, "clip": false},
  "encoding": {"x": {"datum": {"year":2025,"month":5,"date":15,"utc":true}, "type": "temporal"}, "y": {"field": "p", "type": "quantitative"}}},
 {"data": {"name": "tags"}, "transform": [{"filter": "datum.k == 'r'"}],
  "mark": {"type": "point", "shape": "M0.15,-0.5H3.3V0.5H0.15Z", "size": 400, "filled": true, "color": "#f23645", "opacity": 1, "clip": false},
  "encoding": {"x": {"datum": {"year":2025,"month":5,"date":15,"utc":true}, "type": "temporal"}, "y": {"field": "p", "type": "quantitative"}}},
 {"data": {"values": [{"p": 59.0}]},
  "mark": {"type": "point", "shape": "M0.15,-1.35H3.3V-0.35H0.15Z", "size": 400, "filled": true, "color": "#f23645", "opacity": 1, "clip": false},
  "encoding": {"x": {"datum": {"year":2025,"month":5,"date":15,"utc":true}, "type": "temporal"}, "y": {"field": "p", "type": "quantitative"}}},
 {"data": {"values": [{"p": 58.91}]},
  "mark": {"type": "point", "shape": "M-1.75,-0.5H-0.05V0.5H-1.75Z", "size": 400, "filled": true, "color": "#ffffff", "opacity": 1, "clip": false},
  "encoding": {"x": {"datum": {"year":2025,"month":5,"date":15,"utc":true}, "type": "temporal"}, "y": {"field": "p", "type": "quantitative"}}},
 {"data": {"name": "tags"},
  "mark": {"type": "text", "fontSize": 7, "align": "left", "baseline": "middle", "dx": 4, "clip": false, "color": "#ffffff"},
  "encoding": {"x": {"datum": {"year":2025,"month":5,"date":15,"utc":true}, "type": "temporal"}, "y": {"field": "p", "type": "quantitative"}, "text": {"field": "s"}}},
 {"data": {"values": [{"p": 59.0, "s": "59,00%"}]},
  "mark": {"type": "text", "fontSize": 7, "align": "left", "baseline": "middle", "dx": 4, "dy": -8.5, "clip": false, "color": "#ffffff"},
  "encoding": {"x": {"datum": {"year":2025,"month":5,"date":15,"utc":true}, "type": "temporal"}, "y": {"field": "p", "type": "quantitative"}, "text": {"field": "s"}}},
 {"data": {"values": [{"p": 58.91, "s": "58,91%"}]},
  "mark": {"type": "text", "fontSize": 7, "align": "left", "baseline": "middle", "dx": 4, "clip": false, "color": "#131722"},
  "encoding": {"x": {"datum": {"year":2025,"month":5,"date":15,"utc":true}, "type": "temporal"}, "y": {"field": "p", "type": "quantitative"}, "text": {"field": "s"}}},
 {"data": {"values": [{"p": 58.91, "s": "13:10:34"}]},
  "mark": {"type": "text", "fontSize": 7, "align": "left", "baseline": "middle", "dx": 4, "dy": 8.5, "clip": false, "color": "#555a64"},
  "encoding": {"x": {"datum": {"year":2025,"month":5,"date":15,"utc":true}, "type": "temporal"}, "y": {"field": "p", "type": "quantitative"}, "text": {"field": "s"}}},
 {"data": {"values": [{"p": 58.91, "s": "BTC.D"}]},
  "mark": {"type": "text", "fontSize": 7, "align": "right", "baseline": "middle", "dx": -2, "clip": false, "color": "#131722"},
  "encoding": {"x": {"datum": {"year":2025,"month":5,"date":15,"utc":true}, "type": "temporal"}, "y": {"field": "p", "type": "quantitative"}, "text": {"field": "s"}}},
 {"data": {"values": [{"p": 62.4, "s": "%"}]},
  "mark": {"type": "text", "fontSize": 7, "align": "left", "baseline": "middle", "dx": 10, "clip": false, "color": "#131722"},
  "encoding": {"x": {"datum": {"year":2025,"month":5,"date":15,"utc":true}, "type": "temporal"}, "y": {"field": "p", "type": "quantitative"}, "text": {"field": "s"}}}
]}
]
},
{
"width": 755, "height": 54,
"layer": [
 {"data": {"name": "one"},
  "mark": {"type": "rect", "color": "#7e57c2", "opacity": 0.1},
  "encoding": {"x": {"datum": {"year":2024,"month":1,"date":1,"utc":true}, "type": "temporal", "scale": {"type": "utc", "domain": [{"year":2024,"month":1,"date":1,"utc":true},{"year":2025,"month":5,"date":15,"utc":true}]},
         "axis": {"values": [{"year":2024,"month":2,"date":1,"utc":true},{"year":2024,"month":3,"date":1,"utc":true},{"year":2024,"month":4,"date":1,"utc":true},{"year":2024,"month":5,"date":1,"utc":true},{"year":2024,"month":6,"date":1,"utc":true},{"year":2024,"month":7,"date":1,"utc":true},{"year":2024,"month":8,"date":1,"utc":true},{"year":2024,"month":9,"date":1,"utc":true},{"year":2024,"month":10,"date":1,"utc":true},{"year":2024,"month":11,"date":1,"utc":true},{"year":2024,"month":12,"date":1,"utc":true},{"year":2025,"month":1,"date":1,"utc":true},{"year":2025,"month":2,"date":1,"utc":true},{"year":2025,"month":3,"date":1,"utc":true},{"year":2025,"month":4,"date":1,"utc":true},{"year":2025,"month":5,"date":1,"utc":true}],
                  "labelExpr": "utcmonth(datum.value) == 0 ? '' + utcyear(datum.value) : ((utcyear(datum.value) == 2025 && utcmonth(datum.value) == 2) ? '3' : ['Янв','Фев','Мар','Апр','Май','Июн','Июл','Авг','Сен','Окт','Ноя','Дек'][utcmonth(datum.value)])",
                  "ticks": false, "domain": false, "grid": true, "gridColor": "#dce8e9", "labelFontSize": 7, "labelColor": "#3a3e48", "labelPadding": 1,
                  "title": "TradingView", "titleFontSize": 8, "titleFontWeight": "bold", "titleColor": "#131722", "titleAnchor": "start", "titleAlign": "left", "titleX": 14, "titlePadding": 13}},
   "x2": {"datum": {"year":2025,"month":5,"date":15,"utc":true}},
   "y": {"datum": 70, "type": "quantitative", "scale": {"domain": [23.7, 80.5], "nice": false, "zero": false},
         "axis": {"orient": "right", "labels": false, "domain": false, "ticks": false, "grid": false, "title": null}},
   "y2": {"datum": 30}}},
 {"data": {"name": "rsilv"}, "transform": [{"filter": "datum.k == 'a'"}],
  "mark": {"type": "rule", "color": "#787b86", "strokeWidth": 0.8, "strokeDash": [2, 2]},
  "encoding": {"y": {"field": "y", "type": "quantitative", "scale": {"domain": [23.7, 80.5], "nice": false, "zero": false}}}},
 {"data": {"name": "rsilv"}, "transform": [{"filter": "datum.k == 'b'"}],
  "mark": {"type": "rule", "color": "#9a9ca5", "strokeWidth": 0.6, "strokeDash": [2, 2], "opacity": 0.6},
  "encoding": {"y": {"field": "y", "type": "quantitative", "scale": {"domain": [23.7, 80.5], "nice": false, "zero": false}}}},
 {"data": {"name": "c"},
  "mark": {"type": "line", "color": "#f0dc8a", "strokeWidth": 1.5, "opacity": 0.9},
  "encoding": {"x": {"field": "t", "type": "temporal", "scale": {"type": "utc", "domain": [{"year":2024,"month":1,"date":1,"utc":true},{"year":2025,"month":5,"date":15,"utc":true}]}},
   "y": {"field": "m", "type": "quantitative", "scale": {"domain": [23.7, 80.5], "nice": false, "zero": false}}}},
 {"data": {"name": "c"},
  "mark": {"type": "line", "color": "#7e57c2", "strokeWidth": 0.8},
  "encoding": {"x": {"field": "t", "type": "temporal", "scale": {"type": "utc", "domain": [{"year":2024,"month":1,"date":1,"utc":true},{"year":2025,"month":5,"date":15,"utc":true}]}},
   "y": {"field": "r", "type": "quantitative", "scale": {"domain": [23.7, 80.5], "nice": false, "zero": false}}}},
 {"data": {"name": "rsilab"},
  "mark": {"type": "text", "fontSize": 7, "align": "left", "baseline": "middle", "dx": 7, "clip": false, "color": "#2a2e39"},
  "encoding": {"x": {"datum": {"year":2025,"month":5,"date":15,"utc":true}, "type": "temporal"},
   "y": {"field": "y", "type": "quantitative", "scale": {"domain": [23.7, 80.5], "nice": false, "zero": false}}, "text": {"field": "s"}}}
]
}
]
}
